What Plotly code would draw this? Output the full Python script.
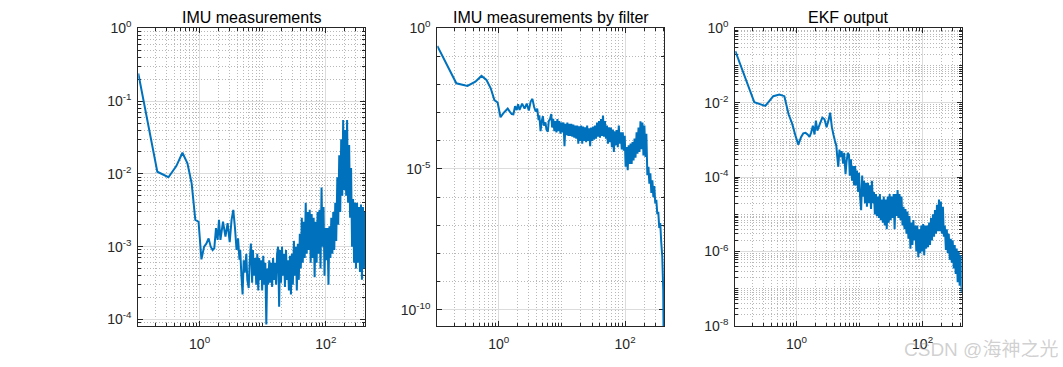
import math
import plotly.graph_objects as go

# ---------------- data ----------------
freq_low = [0.107, 0.214, 0.321, 0.428, 0.535, 0.642, 0.749, 0.856, 0.963, 1.07,
            1.18, 1.28, 1.39, 1.5, 1.61, 1.71, 1.82, 1.93, 2.03, 2.14,
            2.35, 2.57, 2.78, 3.0, 3.21, 3.42, 3.64, 3.85, 4.07, 4.28]
freq_mid = [4.4, 4.6, 4.8, 5.0, 5.2, 5.5, 5.7, 6.0, 6.2, 6.5,
            6.8, 7.0, 7.3, 7.6, 7.9, 8.2, 8.5, 8.8, 9.1, 9.5, 9.8]
freq_dec1 = [10.2, 10.6, 11, 11.4, 11.8, 12.2, 12.7, 13.1, 13.6, 14.1,
             14.6, 15.2, 15.7, 16.3, 16.9, 17.5, 18.2, 18.8, 19.5, 20.2,
             21, 21.7, 22.5, 23.4, 24.2, 25.1, 26, 27, 28, 29,
             30, 31.2, 32.3, 33.5, 34.7, 36, 37.3, 38.7, 40.1, 41.6,
             43.1, 44.7, 46.3, 48, 49.8, 51.6, 53.5, 55.5, 57.5, 59.6,
             61.8, 64.1, 66.4, 68.9, 71.4, 74, 76.7, 79.5, 82.4, 85.5,
             88.6, 91.9, 95.2, 98.7]
freq_dec2 = [102, 106, 110, 114, 118, 122, 127, 131, 136, 141,
             146, 152, 157, 163, 169, 175, 182, 188, 195, 202,
             210, 217, 225, 234, 242, 251, 260, 270, 280, 290,
             300, 312, 323, 335, 347, 360, 373, 387, 401, 417]

# Panel 1: IMU measurements
imu_low = [0.24, 0.0107, 0.009, 0.0128, 0.0195, 0.014, 0.0074, 0.00233, 0.0022, 0.00067,
           0.001, 0.0011, 0.0013, 0.001, 0.0009, 0.00095, 0.0018, 0.00124, 0.00233, 0.00124,
           0.0022, 0.00137, 0.0021, 0.00115, 0.00233, 0.0032, 0.0018, 0.0009, 0.0013, 0.00066]
imu_mid = [9e-4, 4e-4, 2.2e-4, 6.5e-4, 4.4e-4, 8e-4, 3.5e-4, 2.7e-4, 6e-4, 1.1e-3,
           3.2e-4, 9e-4, 4e-4, 7e-4, 3e-4, 8e-4, 2.5e-4, 7e-4, 3.5e-4, 6.5e-4, 2.5e-4]
imu_dec1 = [7.5e-4, 3e-4, 6e-4, 8.5e-5, 5e-4, 3e-4, 6.5e-4, 3.2e-4, 6e-4, 2.8e-4,
            7e-4, 3.5e-4, 6e-4, 3e-4, 8e-4, 1e-3, 1.5e-4, 9e-4, 3.2e-4, 1e-3,
            4e-4, 8e-4, 2.8e-4, 9e-4, 3.5e-4, 6.5e-4, 2.5e-4, 7.5e-4, 2.2e-4, 8e-4,
            3e-4, 1.2e-3, 4e-4, 1e-3, 2.5e-4, 1.1e-3, 3.5e-4, 1.5e-3, 5e-4, 2.5e-3,
            6e-4, 2.2e-3, 7e-4, 4e-3, 8e-4, 3e-3, 9e-4, 3.2e-3, 6e-4, 2.8e-3,
            7e-4, 2.5e-3, 3.8e-4, 2.2e-3, 6e-4, 3e-3, 8e-4, 3.2e-3, 5e-4, 6.5e-3,
            1e-3, 3.5e-3, 4e-4, 1.8e-3]
imu_dec2 = [6.5e-4, 1.8e-3, 3e-4, 1.9e-3, 7e-4, 2.5e-3, 8e-4, 3e-3, 9e-4, 4e-3,
            1.2e-3, 9e-3, 2e-3, 1.8e-2, 3e-3, 3e-2, 5e-3, 5.5e-2, 6e-3, 4e-2,
            5e-3, 5.5e-2, 4e-3, 2.5e-2, 2.5e-3, 1.2e-2, 1e-3, 4.5e-3, 6e-4, 4e-3,
            5e-4, 4e-3, 6e-4, 3.5e-3, 4.5e-4, 3.8e-3, 3.5e-4, 3.5e-3, 5e-4, 3e-3]

# Panel 2: IMU measurements by filter
filt_low = [0.235, 0.0111, 0.0089, 0.0127, 0.0203, 0.0146, 0.0074, 0.0028, 0.0023, 0.00069,
            0.00095, 0.00115, 0.0014, 0.0011, 0.0009, 0.00088, 0.0017, 0.00125, 0.002, 0.00125,
            0.0021, 0.0014, 0.0021, 0.0012, 0.0025, 0.0031, 0.0016, 0.0011, 0.0014, 5.5e-4]
filt_mid = [8e-4, 2.2e-4, 5e-4, 7.5e-4, 3.5e-4, 4.5e-4, 2.5e-4, 2.1e-4, 5e-4, 6e-4,
            9e-4, 3e-4, 6e-4, 2.2e-4, 5e-4, 2e-4, 6e-4, 2.2e-4, 5e-4, 1.8e-4, 4.5e-4]
filt_dec1 = [2e-4, 4.5e-4, 6.5e-5, 4e-4, 1.6e-4, 4.5e-4, 1.5e-4, 4e-4, 1.5e-4, 4e-4,
             1.4e-4, 3.8e-4, 1.3e-4, 3.5e-4, 1.2e-4, 3.5e-4, 8e-5, 3.3e-4, 1e-4, 3.5e-4,
             8e-5, 3.2e-4, 1e-4, 3e-4, 9e-5, 3.5e-4, 1e-4, 2.8e-4, 6.5e-5, 3e-4,
             1e-4, 3.2e-4, 1.1e-4, 3.5e-4, 1.2e-4, 4.5e-4, 1.4e-4, 5e-4, 1.3e-4, 6e-4,
             1.5e-4, 8e-4, 1.4e-4, 5e-4, 1.2e-4, 3.5e-4, 8e-5, 3e-4, 9e-5, 3e-4,
             6e-5, 2.5e-4, 4e-5, 2.2e-4, 7e-5, 2.4e-4, 6e-5, 3.5e-4, 8e-5, 2e-4,
             5e-5, 2e-4, 4.5e-5, 1.5e-4]
filt_dec2 = [1.2e-5, 6e-5, 9e-6, 7e-5, 1.5e-5, 8e-5, 1.5e-5, 9e-5, 2e-5, 1.2e-4,
             2.5e-5, 2e-4, 3.5e-5, 3e-4, 4e-5, 5e-4, 5e-5, 4.5e-4, 3e-5, 3.5e-4,
             2.7e-5, 1.8e-4, 6e-6, 1.2e-5, 3e-6, 7e-6, 1.4e-6, 4e-6, 1e-6, 2.5e-6,
             6e-7, 8e-7, 2.5e-7, 3e-7, 8e-8, 1.2e-7, 2.5e-8, 8e-9, 5e-10, 1e-14]

# Panel 3: EKF output
ekf_low = [0.245, 0.0104, 0.0082, 0.015, 0.0166, 0.015, 0.0049, 0.0027, 0.0013, 7.5e-4,
           1.18e-3, 1.5e-3, 1.55e-3, 1.4e-3, 1.2e-3, 1.6e-3, 2.4e-3, 1.4e-3, 3.3e-3, 1.77e-3,
           2.7e-3, 4e-3, 3.6e-3, 2.2e-3, 3.3e-3, 5.4e-3, 2.2e-3, 1.4e-3, 9.5e-4, 7e-4]
ekf_mid = [4e-4, 1.9e-4, 5.5e-4, 3.5e-4, 5e-4, 2.3e-4, 4.5e-4, 1.2e-4, 2.5e-4, 4.5e-4,
           4e-4, 1.1e-4, 3e-4, 8e-5, 2e-4, 6e-5, 2e-4, 6e-5, 1.5e-4, 4e-5, 1.3e-4]
ekf_dec1 = [3e-5, 1.3e-5, 1.1e-4, 3e-5, 8e-5, 2e-5, 7e-5, 1.6e-5, 7e-5, 2e-5,
            6e-5, 1.4e-5, 8e-5, 2e-5, 4e-5, 1e-5, 3.5e-5, 9e-6, 3e-5, 8e-6,
            3.5e-5, 7e-6, 2.5e-5, 6e-6, 3e-5, 5e-6, 2.5e-5, 4e-6, 3e-5, 6e-6,
            3.5e-5, 7e-6, 3e-5, 8e-6, 3.5e-5, 4e-6, 3.5e-5, 9e-6, 4.5e-5, 8e-6,
            3.5e-5, 7e-6, 3e-5, 5e-6, 1.6e-5, 4e-6, 1.4e-5, 3e-6, 1.2e-5, 2.2e-6,
            9e-6, 1.2e-6, 6e-6, 1.5e-6, 7e-6, 2e-6, 5e-6, 1e-6, 5e-6, 7e-7,
            4e-6, 9e-7, 5e-6, 1e-6]
ekf_dec2 = [5.5e-6, 8e-7, 5e-6, 1.2e-6, 5e-6, 1.3e-6, 6e-6, 1.5e-6, 8e-6, 2e-6,
            1e-5, 2.5e-6, 1.3e-5, 3e-6, 1.8e-5, 3.5e-6, 2.5e-5, 3.5e-6, 2.2e-5, 3e-6,
            1.6e-5, 2.5e-6, 5e-6, 1.1e-6, 4e-6, 9e-7, 3e-6, 6e-7, 2.2e-6, 5e-7,
            2e-6, 3.5e-7, 1.5e-6, 2.5e-7, 1.2e-6, 1.5e-7, 1e-6, 1.2e-7, 8e-7, 8e-8]

titles = ["IMU measurements", "IMU measurements by filter", "EKF output"]
y_ticks = [[0, -1, -2, -3, -4], [0, -5, -10], [0, -2, -4, -6, -8]]
y_ranges = [[-4.09, 0], [-10.58, 0], [-8, 0]]
x_ticks = [0, 2]
freq_min, freq_max = 0.107, 417
watermark = "CSDN @海神之光"

# ---------------- assemble ----------------
freq = freq_low + freq_mid + freq_dec1 + freq_dec2
series = [imu_low + imu_mid + imu_dec1 + imu_dec2,
          filt_low + filt_mid + filt_dec1 + filt_dec2,
          ekf_low + ekf_mid + ekf_dec1 + ekf_dec2]
for s in series:
    assert len(s) == len(freq), (len(s), len(freq))

W, H = 1063, 367
x_px = [(138.3, 365.0), (437.3, 664.3), (735.3, 961.7)]
y_top, y_bot = 28.3, 326.0
ydom = [1 - y_bot / H, 1 - y_top / H]

LINE = "#0072BD"
AX = "#262626"
MAJ = "#dcdcdc"
MIN = "#b8b8b8"
FONT = "Liberation Sans, Arial, sans-serif"


def lab(e):
    return "10<sup>%d</sup>" % e


fig = go.Figure()
layout = dict(width=W, height=H, margin=dict(l=0, r=0, t=0, b=0, autoexpand=False),
              template="none",
              paper_bgcolor="white", plot_bgcolor="white", showlegend=False,
              font=dict(family=FONT, size=14, color=AX))
annotations = []
for i in range(3):
    xa = "xaxis" if i == 0 else "xaxis%d" % (i + 1)
    ya = "yaxis" if i == 0 else "yaxis%d" % (i + 1)
    xr = "x" if i == 0 else "x%d" % (i + 1)
    yr = "y" if i == 0 else "y%d" % (i + 1)
    fig.add_trace(go.Scatter(x=freq, y=series[i], mode="lines", xaxis=xr, yaxis=yr,
                             line=dict(color=LINE, width=2, simplify=False),
                             hoverinfo="skip"))
    xminor = []
    for n in range(-1, 3):
        for k in range(1, 10):
            if k == 1 and n in x_ticks:
                continue
            xminor.append(k * 10 ** n)
    lo = math.floor(y_ranges[i][0])
    yminor = []
    for n in range(lo, 1):
        ks = [1] if i == 1 else range(1, 10)
        for k in ks:
            if k == 1 and n in y_ticks[i]:
                continue
            yminor.append(k * 10.0 ** n)
    d0, d1 = x_px[i]
    common = dict(showline=True, linecolor=AX, linewidth=1, mirror="allticks",
                  ticks="inside", ticklen=5, tickcolor=AX, tickwidth=1,
                  showgrid=True, gridcolor=MAJ, gridwidth=1, zeroline=False,
                  automargin=False, layer="below traces",
                  tickfont=dict(family=FONT, size=14, color=AX))
    minor = dict(tickmode="array", ticks="inside", ticklen=3, tickcolor=AX,
                 showgrid=True, gridcolor=MIN, griddash="1px,2px", gridwidth=1)
    layout[xa] = dict(type="log", domain=[d0 / W, d1 / W],
                      range=[math.log10(freq_min), math.log10(freq_max)],
                      tickmode="array", tickvals=[10 ** e for e in x_ticks],
                      ticktext=[lab(e) for e in x_ticks], anchor=yr,
                      ticklabelstandoff=5,
                      minor=dict(tickvals=xminor, **minor), **common)
    layout[ya] = dict(type="log", domain=ydom, range=y_ranges[i],
                      tickmode="array", tickvals=[10.0 ** e for e in y_ticks[i]],
                      ticktext=[lab(e) for e in y_ticks[i]], anchor=xr,
                      ticklabelstandoff=3,
                      minor=dict(tickvals=yminor, **minor), **common)
    annotations.append(dict(text=titles[i], x=(d0 + d1) / 2 / W, y=ydom[1],
                            xref="paper", yref="paper", xanchor="center",
                            yanchor="bottom", yshift=0, showarrow=False,
                            font=dict(family=FONT, size=16, color="#000000")))

annotations.append(dict(text=watermark, x=1060 / W, y=1 - 349 / H,
                        xref="paper", yref="paper", xanchor="right", yanchor="middle",
                        showarrow=False,
                        font=dict(family="Liberation Sans, Noto Sans CJK SC, sans-serif",
                                  size=19, color="rgba(150,150,150,0.45)")))
layout["annotations"] = annotations
fig.update_layout(**layout)
fig.write_html("out.html", config={"displayModeBar": False},
               post_script="document.body.style.margin='0px';"
                           "document.body.style.overflow='hidden';")
